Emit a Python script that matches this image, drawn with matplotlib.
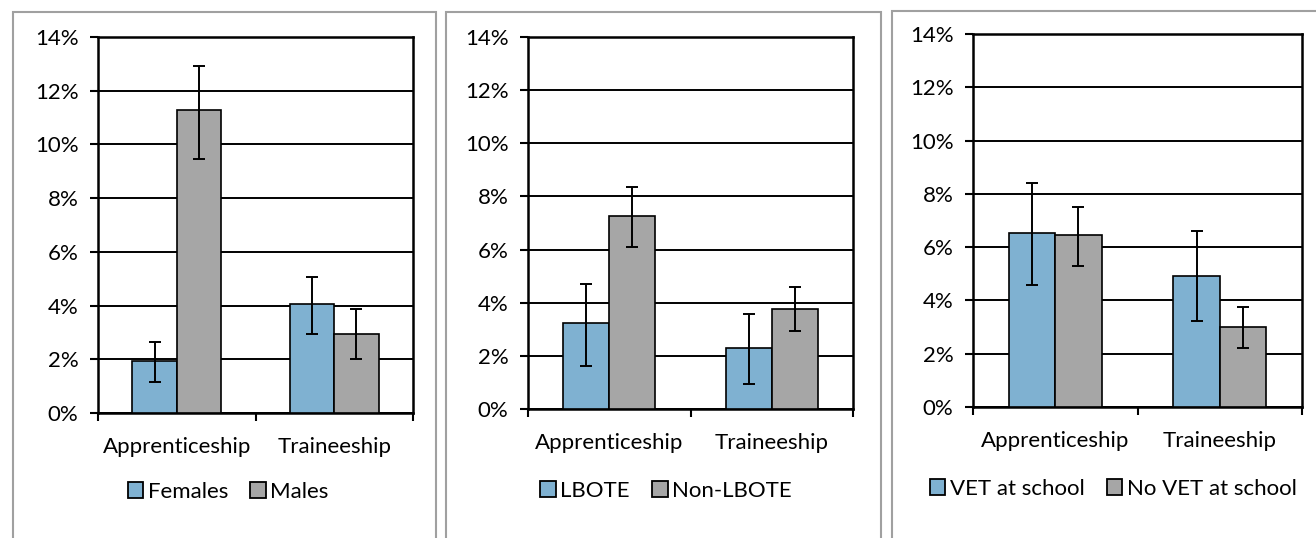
import matplotlib
matplotlib.use("Agg")
import matplotlib.pyplot as plt
from matplotlib.patches import Rectangle, Patch
import numpy as np

plt.rcParams['font.family'] = ['Lato', 'DejaVu Sans']

categories = ["Apprenticeship", "Traineeship"]
yticks = [0, 2, 4, 6, 8, 10, 12, 14]

# panel 1 - gender
p1_labels = ["Females", "Males"]
p1_vals = [[1.95, 4.05], [11.27, 2.94]]
p1_low = [[1.14, 2.94], [9.47, 2.0]]
p1_high = [[2.65, 5.07], [12.93, 3.86]]

# panel 2 - language background
p2_labels = ["LBOTE", "Non-LBOTE"]
p2_vals = [[3.23, 2.28], [7.27, 3.76]]
p2_low = [[1.60, 0.94], [6.11, 2.95]]
p2_high = [[4.71, 3.57], [8.35, 4.59]]

# panel 3 - VET at school
p3_labels = ["VET at school", "No VET at school"]
p3_vals = [[6.52, 4.92], [6.46, 3.01]]
p3_low = [[4.57, 3.21], [5.30, 2.21]]
p3_high = [[8.41, 6.59], [7.52, 3.77]]

colors = ["#7FB1D1", "#A6A6A6"]

W, H = 1316, 538
fig = plt.figure(figsize=(W / 100, H / 100), dpi=100)

panels = [
    # axes box px (left, top, right, bottom), frame px (left, top, right), legend y, legend centre x
    (p1_labels, p1_vals, p1_low, p1_high, (98, 37, 413, 413), (13, 12, 436), 492, 228),
    (p2_labels, p2_vals, p2_low, p2_high, (528, 37, 853, 409), (446, 12, 881), 491, 666),
    (p3_labels, p3_vals, p3_low, p3_high, (973, 34, 1302, 407), (892, 11, 1330), 489, 1113),
]

bw = 0.282
x = np.arange(len(categories))
fs = 16

for labels, vals, low, high, box, frame, leg_y, leg_cx in panels:
    l, t, r, b = box
    ax = fig.add_axes([l / W, 1 - b / H, (r - l) / W, (b - t) / H])

    # gray frame round each chart
    fl, ft, fr = frame
    fig.patches.append(Rectangle((fl / W, -0.05), (fr - fl) / W, 0.05 + 1 - ft / H,
                                 transform=fig.transFigure, fill=False,
                                 edgecolor="#A0A0A0", linewidth=1.5, zorder=0))

    for i in range(2):
        v = np.array(vals[i])
        err = [v - np.array(low[i]), np.array(high[i]) - v]
        ax.bar(x + (i - 0.5) * bw, v, bw, color=colors[i], edgecolor="black",
               linewidth=1.2, zorder=3)
        ax.errorbar(x + (i - 0.5) * bw, v, yerr=err, fmt="none", ecolor="black",
                    elinewidth=1.4, capsize=4.3, capthick=1.4, zorder=4)

    ax.set_xlim(-0.5, 1.5)
    ax.set_ylim(0, 14)
    ax.set_yticks(yticks)
    ax.set_yticklabels([f"{v}%" for v in yticks], fontsize=fs)
    ax.yaxis.grid(True, color="black", linewidth=1.4, zorder=0)
    ax.set_axisbelow(True)
    ax.set_xticks([-0.5, 0.5, 1.5])
    ax.set_xticklabels([])
    ax.set_xticks(x, minor=True)
    ax.set_xticklabels(categories, minor=True, fontsize=fs)
    ax.tick_params(axis="x", which="minor", length=0, pad=17)
    ax.tick_params(axis="x", which="major", length=6, width=1.5, direction="out")
    ax.tick_params(axis="y", length=6, width=1.5, direction="out", pad=8)
    for s in ax.spines.values():
        s.set_linewidth(1.8)

    handles = [Patch(facecolor=colors[i], edgecolor="black", linewidth=1.3, label=labels[i])
               for i in range(2)]
    fig.legend(handles=handles, loc="center", ncol=2, frameon=False,
               bbox_to_anchor=(leg_cx / W, 1 - leg_y / H), fontsize=fs,
               handlelength=0.7, handleheight=0.7, handletextpad=0.2,
               columnspacing=1.0)

fig.savefig("out.png", dpi=100)
